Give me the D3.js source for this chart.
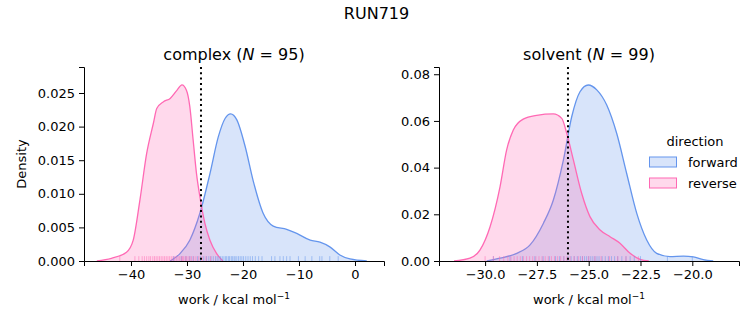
<!DOCTYPE html>
<html><head><meta charset="utf-8">
<script src="https://cdn.jsdelivr.net/npm/d3@7"></script>
<style>body{margin:0;background:#fff}svg{font-family:"DejaVu Sans",sans-serif}</style>
</head><body><svg id="c" width="753" height="325"></svg>
<script>
const suptitle = "RUN719";
const directions = ["forward", "reverse"];
const colors = {forward: "#6495ED", reverse: "#FF69B4"};

// complex panel: KDE curves [work, density]
const complexForwardKde = [[-33.0,0],[-31.25,0.0011],[-29.5,0.0031],[-27.7,0.0071],[-25.9,0.013],[-24.4,0.0185],[-23.2,0.0212],[-22.2,0.0219],[-21.1,0.021],[-19.6,0.017],[-18.2,0.012],[-16.4,0.0071],[-14.6,0.0052],[-12.2,0.0047],[-10.4,0.0041],[-8.0,0.0031],[-6.25,0.0028],[-4.5,0.0021],[-2.7,0.0009],[-0.9,0.0003],[2.1,0]];
const complexReverseKde = [[-46.1,0],[-43.5,0.0004],[-40.8,0.0013],[-39.6,0.0031],[-38.4,0.0091],[-37.2,0.016],[-36.0,0.0205],[-35.4,0.0227],[-34.2,0.0237],[-33.0,0.0242],[-31.8,0.0254],[-30.9,0.0262],[-30.1,0.0254],[-29.5,0.023],[-28.9,0.018],[-28.3,0.013],[-27.7,0.0096],[-26.8,0.0056],[-25.9,0.0031],[-24.7,0.0011],[-23.6,0]];
// solvent panel
const solventForwardKde = [[-29.92,0],[-29.28,0.0012],[-28.47,0.0033],[-27.83,0.0069],[-27.19,0.0161],[-26.71,0.026],[-26.22,0.0433],[-25.82,0.0618],[-25.42,0.0725],[-25.02,0.0754],[-24.61,0.0733],[-24.13,0.0668],[-23.65,0.0547],[-23.17,0.0376],[-22.68,0.0204],[-22.2,0.009],[-21.72,0.0033],[-21.08,0.0019],[-20.43,0.0021],[-19.95,0.0018],[-19.47,0.0006],[-18.99,0]];
const solventReverseKde = [[-31.5,0],[-30.73,0.0012],[-30.25,0.0047],[-29.76,0.0147],[-29.28,0.0318],[-28.96,0.0476],[-28.64,0.0561],[-28.16,0.0608],[-27.51,0.0624],[-26.71,0.063],[-26.3,0.0611],[-26.06,0.0547],[-25.74,0.0433],[-25.34,0.029],[-24.94,0.019],[-24.45,0.0133],[-23.97,0.0104],[-23.49,0.0076],[-23.0,0.0033],[-22.52,0.0007],[-22.1,0]];

// rug samples (work values)
const complexForwardRug = [-32.4,-31.0,-30.2,-29.5,-28.9,-28.1,-27.6,-27.0,-26.5,-26.1,-25.7,-25.3,-24.9,-24.6,-24.3,-24.0,-23.7,-23.4,-23.1,-22.9,-22.6,-22.4,-22.1,-21.9,-21.6,-21.4,-21.1,-20.8,-20.5,-20.2,-19.9,-19.5,-19.1,-18.7,-18.3,-17.8,-17.2,-16.6,-14.9,-14.3,-13.4,-12.8,-12.2,-11.6,-10.1,-8.9,-7.7,-6.3,-5.9,-4.5,-3.0];
const complexReverseRug = [-42.0,-39.3,-38.6,-38.0,-37.6,-37.2,-36.8,-36.5,-36.1,-35.8,-35.5,-35.2,-34.9,-34.6,-34.3,-34.0,-33.7,-33.4,-33.1,-32.8,-32.5,-32.2,-31.9,-31.6,-31.3,-31.0,-30.8,-30.6,-30.3,-30.1,-29.8,-29.5,-29.2,-28.8,-28.4,-27.9,-27.3,-26.6,-25.8];
const solventForwardRug = [-29.6,-28.8,-28.2,-27.6,-27.2,-26.9,-26.6,-26.4,-26.2,-26.0,-25.85,-25.7,-25.55,-25.4,-25.3,-25.2,-25.1,-25.0,-24.9,-24.8,-24.7,-24.6,-24.5,-24.35,-24.2,-24.05,-23.9,-23.75,-23.6,-23.4,-23.2,-23.0,-22.8,-22.5,-21.2,-20.0];
const solventReverseRug = [-30.0,-29.6,-29.3,-29.1,-28.9,-28.75,-28.6,-28.45,-28.3,-28.15,-28.0,-27.85,-27.7,-27.55,-27.4,-27.25,-27.1,-26.95,-26.8,-26.65,-26.5,-26.35,-26.2,-26.05,-25.9,-25.7,-25.5,-25.3,-25.0,-24.7,-24.4,-24.0,-23.6,-23.2,-22.6];

const complexXTicks = [-40,-30,-20,-10,0];
const complexYTicks = [0,0.005,0.010,0.015,0.020,0.025];
const solventXTicks = [-30,-27.5,-25,-22.5,-20];
const solventYTicks = [0,0.02,0.04,0.06,0.08];
const complexMarker = -27.5;
const solventMarker = -26.0;

const panels = [
  {name:"complex", n:95, left:84, right:384, xd:[-48.39,5.18], yd:[0,0.02887], xt:complexXTicks, yt:complexYTicks, xf:d3.format(".0f"), yf:d3.format(".3f"),
   kde:{forward:complexForwardKde, reverse:complexReverseKde}, rug:{forward:complexForwardRug, reverse:complexReverseRug}, marker:complexMarker, ylabel:true},
  {name:"solvent", n:99, left:439, right:739, xd:[-32.225,-17.746], yd:[0,0.0831], xt:solventXTicks, yt:solventYTicks, xf:d3.format(".1f"), yf:d3.format(".2f"),
   kde:{forward:solventForwardKde, reverse:solventReverseKde}, rug:{forward:solventForwardRug, reverse:solventReverseRug}, marker:solventMarker, ylabel:false}
];
const axTop = 67, axBottom = 261;
const svg = d3.select("#c");
const minus = s => s.replace(/-/g, "\u2212");

svg.append("text").attr("x",376.5).attr("y",19).attr("text-anchor","middle").attr("font-size",16).text(suptitle);

panels.forEach(p => {
  const x = d3.scaleLinear().domain(p.xd).range([p.left,p.right]);
  const y = d3.scaleLinear().domain(p.yd).range([axBottom,axTop]);
  const g = svg.append("g");
  const area = d3.area().x(d=>x(d[0])).y0(y(0)).y1(d=>y(d[1])).curve(d3.curveMonotoneX);
  const line = d3.line().x(d=>x(d[0])).y(d=>y(d[1])).curve(d3.curveMonotoneX);
  const clip = "clip-"+p.name;
  svg.append("clipPath").attr("id",clip).append("rect").attr("x",p.left).attr("y",axTop).attr("width",p.right-p.left).attr("height",axBottom-axTop);
  const pg = g.append("g").attr("clip-path","url(#"+clip+")");
  directions.forEach(dir => {
    pg.append("path").datum(p.kde[dir]).attr("d",area).attr("fill",colors[dir]).attr("fill-opacity",0.25);
    pg.append("path").datum(p.kde[dir]).attr("d",line).attr("fill","none").attr("stroke",colors[dir]).attr("stroke-width",1.3);
  });
  const rh = 0.025*(axBottom-axTop);
  directions.forEach(dir => {
    pg.selectAll(null).data(p.rug[dir]).enter().append("line")
      .attr("x1",d=>x(d)).attr("x2",d=>x(d)).attr("y1",axBottom).attr("y2",axBottom-rh)
      .attr("stroke",colors[dir]).attr("stroke-width",1).attr("stroke-opacity",0.5);
  });
  pg.append("line").attr("x1",x(p.marker)).attr("x2",x(p.marker)).attr("y1",axTop).attr("y2",axBottom)
    .attr("stroke","#000").attr("stroke-width",2).attr("stroke-dasharray","2,3.3");

  const xa = g.append("g").attr("transform",`translate(0,${axBottom})`)
    .call(d3.axisBottom(x).tickValues(p.xt).tickFormat(d=>minus(p.xf(d))).tickSizeOuter(0).tickSize(5).tickPadding(4));
  const ya = g.append("g").attr("transform",`translate(${p.left},0)`)
    .call(d3.axisLeft(y).tickValues(p.yt).tickFormat(d=>p.yf(d)).tickSizeOuter(0).tickSize(5).tickPadding(4));
  [xa,ya].forEach(a=>{a.select(".domain").attr("stroke","#000").attr("stroke-width",1);
    a.selectAll(".tick line").attr("stroke","#000").attr("stroke-width",1);
    a.selectAll("text").attr("font-family","DejaVu Sans").attr("font-size",13).attr("fill","#000");});

  const cx = (p.left+p.right)/2;
  const t = g.append("text").attr("x",cx).attr("y",60).attr("text-anchor","middle").attr("font-size",16);
  t.append("tspan").text(p.name+" (");
  t.append("tspan").attr("font-style","italic").text("N");
  t.append("tspan").text(" = "+p.n+")");

  const xl = g.append("text").attr("x",cx).attr("y",304).attr("text-anchor","middle").attr("font-size",13);
  xl.append("tspan").text("work / kcal mol");
  xl.append("tspan").attr("font-size",9).attr("dy",-5).text("\u22121");
  if (p.ylabel) {
    g.append("text").attr("transform",`translate(26,${(axTop+axBottom)/2}) rotate(-90)`).attr("text-anchor","middle").attr("font-size",13).text("Density");
  }
});

// legend
const lg = svg.append("g");
lg.append("text").attr("x",695).attr("y",146).attr("text-anchor","middle").attr("font-size",13).text("direction");
directions.forEach((dir,i)=>{
  const yy = 157 + i*21;
  lg.append("rect").attr("x",649.5).attr("y",yy).attr("width",27).attr("height",10)
    .attr("fill",colors[dir]).attr("fill-opacity",0.25).attr("stroke",colors[dir]).attr("stroke-width",1);
  lg.append("text").attr("x",688).attr("y",yy+9.5).attr("font-size",13).text(dir);
});
</script></body></html>
